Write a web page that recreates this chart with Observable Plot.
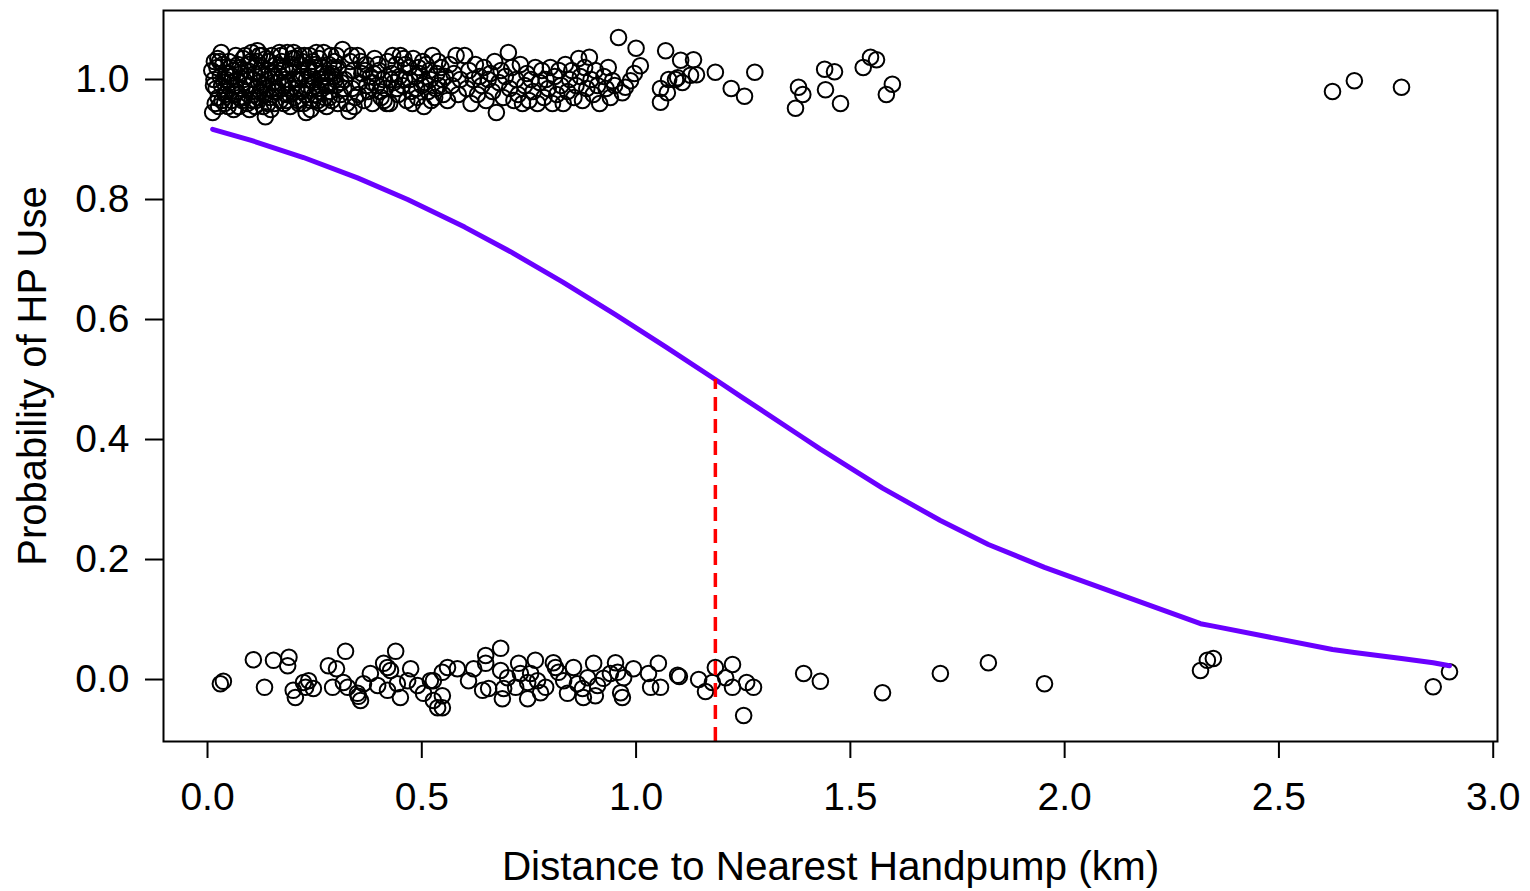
<!DOCTYPE html>
<html>
<head>
<meta charset="utf-8">
<script src="https://cdn.jsdelivr.net/npm/d3@7"></script>
<script src="https://cdn.jsdelivr.net/npm/@observablehq/plot@0.6"></script>
<style>
  html, body { margin: 0; padding: 0; background: white; }
</style>
</head>
<body>
<div id="chart"></div>
<script>
// ---- Data ----
const xTicks = [0, 0.5, 1.0, 1.5, 2.0, 2.5, 3.0];
const yTicks = [0, 0.2, 0.4, 0.6, 0.8, 1.0];
const xTitle = "Distance to Nearest Handpump (km)";
const yTitle = "Probability of HP Use";

// Households that use the handpump (jittered around 1)
const usedPoints = [
[0.01,1.015],[0.012,0.945],[0.015,1.0],[0.02,0.985],[0.022,1.02],[0.025,0.97],[0.03,1.005],[0.033,0.99],[0.036,1.025],[0.04,0.96],[0.043,1.01],[0.046,0.98],[0.05,1.03],[0.053,0.995],[0.056,0.965],[0.06,1.015],[0.063,0.975],[0.066,1.04],[0.07,1.0],[0.073,0.955],[0.076,1.02],[0.08,0.985],[0.083,1.035],[0.086,0.97],[0.09,1.005],[0.093,0.96],[0.096,1.025],[0.1,0.99],[0.103,1.045],[0.106,0.975],[0.11,1.01],[0.113,0.965],[0.116,1.03],[0.117,1.048],[0.12,0.995],[0.123,0.98],[0.126,1.02],[0.13,0.955],[0.133,1.005],[0.135,0.938],[0.137,1.035],[0.14,0.985],[0.143,1.015],[0.146,0.97],[0.15,1.04],[0.153,0.995],[0.156,0.96],[0.16,1.025],[0.163,0.98],[0.166,1.01],[0.17,0.965],[0.173,1.03],[0.176,0.99],[0.18,1.0],[0.183,0.975],[0.186,1.045],[0.19,1.015],[0.193,0.955],[0.196,0.985],[0.2,1.02],[0.203,0.97],[0.206,1.035],[0.21,1.0],[0.213,0.96],[0.216,1.025],[0.22,0.98],[0.223,1.01],[0.226,1.04],[0.23,0.945],[0.233,0.99],[0.236,1.02],[0.24,0.965],[0.243,1.005],[0.246,1.03],[0.25,0.975],[0.253,1.015],[0.256,0.985],[0.26,1.035],[0.263,0.96],[0.266,1.0],[0.27,1.02],[0.273,0.97],[0.276,0.99],[0.28,1.01],[0.283,1.025],[0.286,0.98],[0.29,0.965],[0.293,1.005],[0.296,1.03],[0.3,0.99],
[0.018,0.96],[0.028,1.03],[0.038,0.995],[0.048,0.955],[0.058,1.005],[0.068,0.98],[0.078,1.01],[0.088,1.04],[0.098,0.95],[0.108,1.0],[0.118,0.97],[0.128,1.04],[0.138,1.0],[0.148,0.95],[0.158,1.005],[0.168,1.045],[0.178,0.96],[0.188,0.995],[0.198,1.035],[0.208,0.985],[0.218,1.005],[0.228,0.975],[0.238,1.04],[0.248,0.995],[0.258,0.965],[0.268,1.01],[0.278,0.955],[0.288,1.04],[0.298,1.0],
[0.014,0.99],[0.024,1.035],[0.034,0.965],[0.044,1.0],[0.054,1.02],[0.064,0.99],[0.074,0.97],[0.084,1.0],[0.094,1.015],[0.104,0.965],[0.114,0.985],[0.124,1.01],[0.134,0.975],[0.144,1.03],[0.154,0.98],[0.164,0.995],[0.174,1.015],[0.184,0.965],[0.194,1.025],[0.204,1.0],[0.214,1.04],[0.224,0.96],[0.234,1.015],[0.244,0.985],[0.254,1.045],[0.264,0.99],[0.274,1.005],[0.284,0.97],[0.294,1.02],[0.304,0.96],
[0.016,1.03],[0.026,0.955],[0.032,1.045],[0.041,0.975],[0.051,1.01],[0.061,0.95],[0.071,1.025],[0.081,0.965],[0.091,0.99],[0.101,1.03],[0.111,0.955],[0.121,1.04],[0.131,0.99],[0.141,0.96],[0.151,1.01],[0.161,0.985],[0.171,1.04],[0.181,1.02],[0.191,0.975],[0.201,1.045],[0.211,0.965],[0.221,1.03],[0.231,1.0],[0.241,0.95],[0.251,1.025],[0.261,0.98],[0.271,1.045],[0.281,0.99],[0.291,1.01],[0.301,1.04],
[0.305,1.02],[0.31,0.975],[0.315,1.05],[0.32,1.0],[0.325,0.96],[0.33,0.947],[0.333,1.03],[0.337,0.985],[0.34,1.015],[0.345,0.97],[0.35,1.04],[0.355,0.995],[0.36,1.01],[0.365,0.965],[0.37,1.025],[0.375,0.98],[0.38,1.005],[0.385,0.96],[0.39,1.035],[0.395,0.99],[0.4,1.015],[0.405,0.97],[0.41,1.0],[0.415,0.985],[0.42,1.03],[0.425,0.96],[0.43,1.01],[0.435,0.995],[0.44,1.025],[0.445,0.975],[0.45,1.04],[0.455,0.99],[0.46,1.0],[0.465,0.965],[0.47,1.02],[0.475,0.98],[0.48,1.035],[0.485,1.005],[0.49,0.97],[0.495,1.01],[0.5,0.99],[0.505,0.955],[0.51,1.025],[0.515,0.98],[0.52,1.0],[0.525,1.04],[0.53,0.97],[0.535,1.01],[0.54,0.99],[0.545,1.02],[0.55,0.975],
[0.312,0.995],[0.328,1.01],[0.342,0.955],[0.358,1.03],[0.372,0.99],[0.388,1.01],[0.402,0.98],[0.418,0.96],[0.432,1.04],[0.448,1.005],[0.462,1.025],[0.478,0.96],[0.492,1.02],[0.508,0.995],[0.522,0.965],[0.538,1.03],[0.548,1.0],
[0.318,0.985],[0.336,1.04],[0.352,0.975],[0.368,1.015],[0.384,0.995],[0.398,1.025],[0.412,0.965],[0.428,1.0],[0.442,0.985],[0.458,1.035],[0.472,1.0],[0.488,0.985],[0.502,1.03],[0.518,1.015],[0.532,0.985],
[0.555,1.005],[0.56,0.965],[0.565,1.025],[0.57,0.99],[0.575,1.01],[0.58,1.04],[0.585,0.975],[0.59,1.0],[0.6,1.04],[0.605,0.985],[0.61,1.015],[0.615,0.96],[0.62,1.0],[0.625,1.025],[0.63,0.975],[0.635,1.005],[0.64,0.99],[0.645,1.02],[0.65,0.965],[0.655,1.0],[0.66,1.01],[0.665,0.98],[0.67,1.03],[0.674,0.945],[0.68,0.995],[0.685,1.015],[0.69,0.97],[0.695,1.005],[0.702,1.045],[0.705,0.985],[0.71,1.02],[0.715,0.965],[0.72,1.0],[0.725,0.975],[0.73,1.025],[0.735,0.96],[0.74,0.99],[0.745,1.01],[0.75,0.965],[0.755,1.0],[0.76,0.98],[0.765,1.02],[0.77,0.96],[0.775,0.995],[0.78,1.015],[0.785,0.97],[0.79,1.0],[0.795,0.985],[0.8,1.02],[0.805,0.96],[0.81,1.005],[0.815,0.975],[0.82,1.015],[0.825,0.99],[0.83,0.96],[0.835,1.025],[0.84,0.98],[0.845,1.0],[0.85,1.015],[0.855,0.97],[0.86,0.99],[0.866,1.035],[0.87,1.005],[0.875,0.965],[0.88,1.02],[0.885,0.985],[0.891,1.037],[0.895,1.0],[0.9,0.975],[0.905,1.015],[0.91,0.99],[0.915,0.96],[0.925,1.005],[0.93,0.985],[0.935,1.02],[0.94,0.97],[0.95,0.99],
[0.945,0.998],[0.959,1.07],[0.968,0.978],[0.975,0.987],[0.987,0.998],[0.996,1.01],[1.0,1.052],[1.01,1.023],[1.057,0.985],[1.057,0.962],[1.069,1.048],[1.073,0.978],[1.076,1.0],[1.092,1.0],[1.097,1.003],[1.104,1.032],[1.108,0.995],[1.127,1.007],[1.134,1.033],[1.141,1.008],
[1.185,1.012],[1.222,0.985],[1.253,0.972],[1.277,1.012],[1.372,0.952],[1.379,0.987],[1.389,0.975],[1.44,1.017],[1.442,0.983],[1.463,1.013],[1.477,0.96],[1.53,1.02],[1.547,1.037],[1.561,1.033],[1.584,0.975],[1.598,0.992],
[2.625,0.98],[2.676,0.998],[2.786,0.987]
];

// Households that do not use the handpump (jittered around 0)
const notUsedPoints = [
[0.03,-0.007],[0.037,-0.003],[0.107,0.033],[0.133,-0.013],[0.154,0.032],[0.187,0.023],[0.19,0.037],[0.2,-0.018],[0.205,-0.03],[0.224,-0.005],[0.229,-0.013],[0.236,-0.002],[0.247,-0.015],[0.282,0.023],[0.292,-0.013],[0.301,0.018],[0.317,-0.005],[0.322,0.047],[0.327,-0.013],[0.35,-0.023],[0.352,-0.028],[0.357,-0.035],[0.364,-0.007],[0.38,0.01],[0.397,-0.01],[0.411,0.027],[0.42,0.02],[0.42,-0.018],[0.427,0.015],[0.439,0.047],[0.443,-0.007],[0.45,-0.03],[0.467,-0.002],[0.474,0.018],[0.49,-0.01],[0.504,-0.023],[0.52,-0.002],[0.527,-0.035],[0.537,-0.047],
[0.527,-0.002],[0.548,0.012],[0.56,0.02],[0.583,0.018],[0.548,-0.027],[0.548,-0.047],[0.609,-0.002],[0.621,0.018],[0.649,0.04],[0.684,0.052],[0.649,0.027],[0.656,-0.015],[0.642,-0.018],[0.684,0.015],[0.691,-0.015],[0.688,-0.032],[0.7,0.003],[0.726,0.027],[0.73,0.01],[0.747,-0.005],[0.719,-0.013],[0.747,-0.032],[0.754,0.01],[0.77,-0.002],[0.765,0.032],[0.777,-0.022],[0.789,-0.013],[0.807,0.028],[0.812,0.02],[0.819,0.012],[0.84,-0.023],[0.831,-0.002],[0.854,0.02],[0.863,-0.007],[0.875,-0.015],[0.877,-0.03],[0.887,0.003],[0.901,0.027],[0.91,-0.01],[0.905,-0.027],[0.924,0.002],[0.94,0.01],[0.952,0.028],[0.957,0.012],[0.964,-0.022],[0.968,-0.03],[0.971,0.003],[0.994,0.018],[1.029,0.01],[1.034,-0.013],[1.052,0.027],[1.057,-0.013],[1.097,0.007],
[1.101,0.005],[1.146,0.0],[1.162,-0.02],[1.185,0.02],[1.178,-0.005],[1.209,0.003],[1.225,0.025],[1.225,-0.013],[1.258,-0.005],[1.274,-0.013],[1.251,-0.06],[1.391,0.01],[1.43,-0.003],[1.575,-0.022],
[1.71,0.01],[1.822,0.028],[1.953,-0.007],[2.317,0.015],[2.333,0.032],[2.347,0.035],[2.86,-0.012],[2.898,0.013]
];

// Fitted probability curve (read at observed distances)
const curveX = [0.012, 0.1, 0.224, 0.35, 0.467, 0.6, 0.707, 0.83, 0.95, 1.07, 1.185, 1.25, 1.39, 1.43, 1.575, 1.71, 1.822, 1.953, 2.317, 2.347, 2.625, 2.676, 2.786, 2.86, 2.898];
const curveP = [0.917, 0.899, 0.870, 0.836, 0.800, 0.754, 0.713, 0.662, 0.609, 0.554, 0.500, 0.469, 0.403, 0.384, 0.319, 0.265, 0.225, 0.187, 0.093, 0.089, 0.050, 0.045, 0.035, 0.028, 0.023];

// Cut-off where probability equals 0.5
const cutoffX = [1.185];
const cutoffP = [0.5];

const xDomain = [-0.1027, 3.010];
const yDomain = [-0.1033, 1.115];

// ---- Build tables ----
const pts = [
  ...usedPoints.map(([d, p]) => ({d, p})),
  ...notUsedPoints.map(([d, p]) => ({d, p}))
];
const curve = curveX.map((d, i) => ({d, p: curveP[i]}));
const cut = cutoffX.map((d, i) => ({d, p: cutoffP[i]}));

const fontFamily = "'Liberation Sans', Arial, Helvetica, sans-serif";

const chart = Plot.plot({
  width: 1530,
  height: 891,
  marginLeft: 163,
  marginRight: 33,
  marginTop: 10,
  marginBottom: 150,
  x: {domain: xDomain},
  y: {domain: yDomain},
  style: {fontFamily, color: "black", background: "white", overflow: "visible"},
  marks: [
    Plot.axisX({ticks: xTicks, tickFormat: d => d.toFixed(1), tickSize: 17, tickPadding: 24, fontSize: 39, strokeWidth: 2, label: null}),
    Plot.axisY({ticks: yTicks, tickFormat: d => d.toFixed(1), tickSize: 18, tickPadding: 16, fontSize: 39, strokeWidth: 2, label: null}),
    Plot.dot(pts, {x: "d", y: "p", r: 7.8, stroke: "black", strokeWidth: 2, fill: "none"}),
    Plot.line(curve, {x: "d", y: "p", stroke: "#6a00ff", strokeWidth: 5, curve: "linear"}),
    Plot.ruleX(cut, {x: "d", y1: yDomain[0], y2: "p", stroke: "#ff0000", strokeWidth: 3.5, strokeDasharray: "14,8"}),
    Plot.frame({stroke: "black", strokeWidth: 2}),
    Plot.text([xTitle], {frameAnchor: "bottom", dy: 126, fontSize: 40.5, textAnchor: "middle", lineAnchor: "middle", fill: "black"}),
    Plot.text([yTitle], {frameAnchor: "left", dx: -130, rotate: -90, fontSize: 40, textAnchor: "middle", lineAnchor: "middle", fill: "black"})
  ]
});
document.getElementById("chart").append(chart);
</script>
</body>
</html>
